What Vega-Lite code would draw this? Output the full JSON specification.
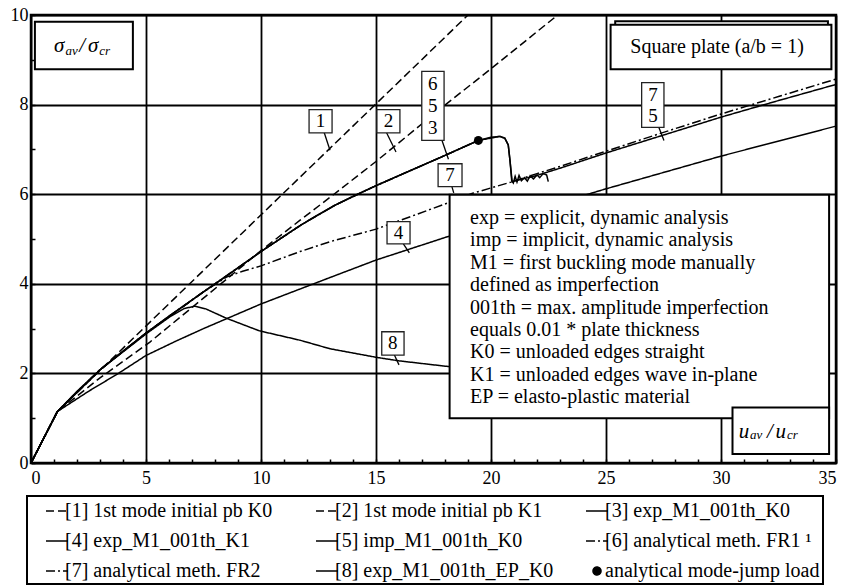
{
  "$schema": "https://vega.github.io/schema/vega-lite/v6.json",
  "width": 805,
  "height": 448,
  "autosize": {"type": "none"},
  "padding": {"left": 31, "top": 15, "right": 7, "bottom": 125},
  "background": "white",
  "config": {
    "view": {"stroke": "black", "strokeWidth": 2.5},
    "font": "Liberation Serif",
    "text": {"font": "Liberation Serif", "color": "black"}
  },
  "datasets": {
    "curves": [
      {"s": "[1] 1st mode initial pb K0", "x": 0, "y": 0},
      {"s": "[1] 1st mode initial pb K0", "x": 1.15, "y": 1.15},
      {"s": "[1] 1st mode initial pb K0", "x": 19.0, "y": 10.0},
      {"s": "[2] 1st mode initial pb K1", "x": 0, "y": 0},
      {"s": "[2] 1st mode initial pb K1", "x": 1.15, "y": 1.15},
      {"s": "[2] 1st mode initial pb K1", "x": 3, "y": 1.9},
      {"s": "[2] 1st mode initial pb K1", "x": 5.17, "y": 2.7},
      {"s": "[2] 1st mode initial pb K1", "x": 8.4, "y": 4.06},
      {"s": "[2] 1st mode initial pb K1", "x": 10, "y": 4.74},
      {"s": "[2] 1st mode initial pb K1", "x": 11.7, "y": 5.42},
      {"s": "[2] 1st mode initial pb K1", "x": 13, "y": 5.93},
      {"s": "[2] 1st mode initial pb K1", "x": 15, "y": 6.73},
      {"s": "[2] 1st mode initial pb K1", "x": 17.9, "y": 7.95},
      {"s": "[2] 1st mode initial pb K1", "x": 20, "y": 8.8},
      {"s": "[2] 1st mode initial pb K1", "x": 22.9, "y": 10.0},
      {"s": "[3] exp_M1_001th_K0", "x": 0, "y": 0},
      {"s": "[3] exp_M1_001th_K0", "x": 1.15, "y": 1.15},
      {"s": "[3] exp_M1_001th_K0", "x": 2, "y": 1.6},
      {"s": "[3] exp_M1_001th_K0", "x": 3, "y": 2.08},
      {"s": "[3] exp_M1_001th_K0", "x": 4, "y": 2.5},
      {"s": "[3] exp_M1_001th_K0", "x": 5, "y": 2.9},
      {"s": "[3] exp_M1_001th_K0", "x": 6, "y": 3.28},
      {"s": "[3] exp_M1_001th_K0", "x": 7.5, "y": 3.82},
      {"s": "[3] exp_M1_001th_K0", "x": 8.5, "y": 4.17},
      {"s": "[3] exp_M1_001th_K0", "x": 10, "y": 4.72},
      {"s": "[3] exp_M1_001th_K0", "x": 11.7, "y": 5.3},
      {"s": "[3] exp_M1_001th_K0", "x": 12.4, "y": 5.52},
      {"s": "[3] exp_M1_001th_K0", "x": 13.2, "y": 5.75},
      {"s": "[3] exp_M1_001th_K0", "x": 14.1, "y": 5.98},
      {"s": "[3] exp_M1_001th_K0", "x": 15, "y": 6.19},
      {"s": "[3] exp_M1_001th_K0", "x": 16.5, "y": 6.53},
      {"s": "[3] exp_M1_001th_K0", "x": 17.8, "y": 6.82},
      {"s": "[3] exp_M1_001th_K0", "x": 19.45, "y": 7.2},
      {"s": "[3] exp_M1_001th_K0", "x": 20.0, "y": 7.27},
      {"s": "[3] exp_M1_001th_K0", "x": 20.39, "y": 7.29},
      {"s": "[3] exp_M1_001th_K0", "x": 20.6, "y": 7.25},
      {"s": "[3] exp_M1_001th_K0", "x": 20.75, "y": 7.1},
      {"s": "[3] exp_M1_001th_K0", "x": 20.83, "y": 6.73},
      {"s": "[3] exp_M1_001th_K0", "x": 20.9, "y": 6.3},
      {"s": "[3] exp_M1_001th_K0", "x": 20.97, "y": 6.25},
      {"s": "[3] exp_M1_001th_K0", "x": 21.05, "y": 6.4},
      {"s": "[3] exp_M1_001th_K0", "x": 21.13, "y": 6.27},
      {"s": "[3] exp_M1_001th_K0", "x": 21.22, "y": 6.42},
      {"s": "[3] exp_M1_001th_K0", "x": 21.32, "y": 6.3},
      {"s": "[3] exp_M1_001th_K0", "x": 21.45, "y": 6.37},
      {"s": "[3] exp_M1_001th_K0", "x": 21.58, "y": 6.29},
      {"s": "[3] exp_M1_001th_K0", "x": 21.7, "y": 6.41},
      {"s": "[3] exp_M1_001th_K0", "x": 21.85, "y": 6.34},
      {"s": "[3] exp_M1_001th_K0", "x": 22.0, "y": 6.43},
      {"s": "[3] exp_M1_001th_K0", "x": 22.12, "y": 6.37},
      {"s": "[3] exp_M1_001th_K0", "x": 22.27, "y": 6.46},
      {"s": "[3] exp_M1_001th_K0", "x": 22.42, "y": 6.43},
      {"s": "[3] exp_M1_001th_K0", "x": 22.49, "y": 6.28},
      {"s": "[4] exp_M1_001th_K1", "x": 0, "y": 0},
      {"s": "[4] exp_M1_001th_K1", "x": 1.15, "y": 1.15},
      {"s": "[4] exp_M1_001th_K1", "x": 2.5, "y": 1.6},
      {"s": "[4] exp_M1_001th_K1", "x": 3.8, "y": 2.0},
      {"s": "[4] exp_M1_001th_K1", "x": 5, "y": 2.4},
      {"s": "[4] exp_M1_001th_K1", "x": 6.3, "y": 2.72},
      {"s": "[4] exp_M1_001th_K1", "x": 7.5, "y": 3.0},
      {"s": "[4] exp_M1_001th_K1", "x": 10, "y": 3.55},
      {"s": "[4] exp_M1_001th_K1", "x": 13, "y": 4.14},
      {"s": "[4] exp_M1_001th_K1", "x": 15, "y": 4.53},
      {"s": "[4] exp_M1_001th_K1", "x": 18.1, "y": 5.05},
      {"s": "[4] exp_M1_001th_K1", "x": 20, "y": 5.35},
      {"s": "[4] exp_M1_001th_K1", "x": 25, "y": 6.12},
      {"s": "[4] exp_M1_001th_K1", "x": 30, "y": 6.85},
      {"s": "[4] exp_M1_001th_K1", "x": 35, "y": 7.52},
      {"s": "[5] imp_M1_001th_K0", "x": 0, "y": 0},
      {"s": "[5] imp_M1_001th_K0", "x": 1.15, "y": 1.15},
      {"s": "[5] imp_M1_001th_K0", "x": 3, "y": 2.08},
      {"s": "[5] imp_M1_001th_K0", "x": 5, "y": 2.9},
      {"s": "[5] imp_M1_001th_K0", "x": 7.5, "y": 3.82},
      {"s": "[5] imp_M1_001th_K0", "x": 10, "y": 4.72},
      {"s": "[5] imp_M1_001th_K0", "x": 11.7, "y": 5.3},
      {"s": "[5] imp_M1_001th_K0", "x": 13.2, "y": 5.75},
      {"s": "[5] imp_M1_001th_K0", "x": 15, "y": 6.19},
      {"s": "[5] imp_M1_001th_K0", "x": 17.8, "y": 6.82},
      {"s": "[5] imp_M1_001th_K0", "x": 19.45, "y": 7.2},
      {"s": "[5] imp_M1_001th_K0", "x": 20.39, "y": 7.29},
      {"s": "[5] imp_M1_001th_K0", "x": 20.6, "y": 7.25},
      {"s": "[5] imp_M1_001th_K0", "x": 20.75, "y": 7.1},
      {"s": "[5] imp_M1_001th_K0", "x": 20.83, "y": 6.73},
      {"s": "[5] imp_M1_001th_K0", "x": 20.92, "y": 6.28},
      {"s": "[5] imp_M1_001th_K0", "x": 22, "y": 6.42},
      {"s": "[5] imp_M1_001th_K0", "x": 23, "y": 6.58},
      {"s": "[5] imp_M1_001th_K0", "x": 25, "y": 6.92},
      {"s": "[5] imp_M1_001th_K0", "x": 27.5, "y": 7.32},
      {"s": "[5] imp_M1_001th_K0", "x": 30, "y": 7.72},
      {"s": "[5] imp_M1_001th_K0", "x": 32.5, "y": 8.09},
      {"s": "[5] imp_M1_001th_K0", "x": 35, "y": 8.45},
      {"s": "[6] analytical meth. FR1 ¹", "x": 0, "y": 0},
      {"s": "[6] analytical meth. FR1 ¹", "x": 1.15, "y": 1.15},
      {"s": "[6] analytical meth. FR1 ¹", "x": 3, "y": 2.08},
      {"s": "[6] analytical meth. FR1 ¹", "x": 5, "y": 2.9},
      {"s": "[6] analytical meth. FR1 ¹", "x": 7.5, "y": 3.82},
      {"s": "[6] analytical meth. FR1 ¹", "x": 10, "y": 4.72},
      {"s": "[6] analytical meth. FR1 ¹", "x": 11.7, "y": 5.3},
      {"s": "[6] analytical meth. FR1 ¹", "x": 13.2, "y": 5.75},
      {"s": "[6] analytical meth. FR1 ¹", "x": 15, "y": 6.19},
      {"s": "[6] analytical meth. FR1 ¹", "x": 17.8, "y": 6.82},
      {"s": "[6] analytical meth. FR1 ¹", "x": 19.45, "y": 7.2},
      {"s": "[7] analytical meth. FR2", "x": 0, "y": 0},
      {"s": "[7] analytical meth. FR2", "x": 1.15, "y": 1.15},
      {"s": "[7] analytical meth. FR2", "x": 3, "y": 2.08},
      {"s": "[7] analytical meth. FR2", "x": 5, "y": 2.9},
      {"s": "[7] analytical meth. FR2", "x": 7.5, "y": 3.82},
      {"s": "[7] analytical meth. FR2", "x": 8.5, "y": 4.15},
      {"s": "[7] analytical meth. FR2", "x": 9.2, "y": 4.28},
      {"s": "[7] analytical meth. FR2", "x": 10, "y": 4.4},
      {"s": "[7] analytical meth. FR2", "x": 11.7, "y": 4.72},
      {"s": "[7] analytical meth. FR2", "x": 13, "y": 4.94},
      {"s": "[7] analytical meth. FR2", "x": 15, "y": 5.22},
      {"s": "[7] analytical meth. FR2", "x": 16.5, "y": 5.5},
      {"s": "[7] analytical meth. FR2", "x": 18.1, "y": 5.8},
      {"s": "[7] analytical meth. FR2", "x": 19.2, "y": 6.02},
      {"s": "[7] analytical meth. FR2", "x": 20.87, "y": 6.27},
      {"s": "[7] analytical meth. FR2", "x": 22, "y": 6.46},
      {"s": "[7] analytical meth. FR2", "x": 23, "y": 6.62},
      {"s": "[7] analytical meth. FR2", "x": 25, "y": 6.96},
      {"s": "[7] analytical meth. FR2", "x": 27.5, "y": 7.38},
      {"s": "[7] analytical meth. FR2", "x": 30, "y": 7.79},
      {"s": "[7] analytical meth. FR2", "x": 32.5, "y": 8.18},
      {"s": "[7] analytical meth. FR2", "x": 35, "y": 8.57},
      {"s": "[8] exp_M1_001th_EP_K0", "x": 0, "y": 0},
      {"s": "[8] exp_M1_001th_EP_K0", "x": 1.15, "y": 1.15},
      {"s": "[8] exp_M1_001th_EP_K0", "x": 3, "y": 2.08},
      {"s": "[8] exp_M1_001th_EP_K0", "x": 5, "y": 2.88},
      {"s": "[8] exp_M1_001th_EP_K0", "x": 6.0, "y": 3.25},
      {"s": "[8] exp_M1_001th_EP_K0", "x": 6.67, "y": 3.45},
      {"s": "[8] exp_M1_001th_EP_K0", "x": 7.13, "y": 3.5},
      {"s": "[8] exp_M1_001th_EP_K0", "x": 7.6, "y": 3.44},
      {"s": "[8] exp_M1_001th_EP_K0", "x": 8.5, "y": 3.23},
      {"s": "[8] exp_M1_001th_EP_K0", "x": 9.93, "y": 2.95},
      {"s": "[8] exp_M1_001th_EP_K0", "x": 11.7, "y": 2.74},
      {"s": "[8] exp_M1_001th_EP_K0", "x": 13.0, "y": 2.55},
      {"s": "[8] exp_M1_001th_EP_K0", "x": 15.0, "y": 2.36},
      {"s": "[8] exp_M1_001th_EP_K0", "x": 16.0, "y": 2.28},
      {"s": "[8] exp_M1_001th_EP_K0", "x": 18.2, "y": 2.15},
      {"s": "[8] exp_M1_001th_EP_K0", "x": 19.0, "y": 2.12}
    ],
    "numboxes": [
      {"x": 12.09, "x2": 13.09, "y": 7.89, "y2": 7.37},
      {"x": 15.04, "x2": 16.04, "y": 7.89, "y2": 7.37},
      {"x": 16.99, "x2": 17.96, "y": 8.74, "y2": 7.2},
      {"x": 17.7, "x2": 18.74, "y": 6.68, "y2": 6.17},
      {"x": 26.55, "x2": 27.52, "y": 8.49, "y2": 7.49},
      {"x": 15.48, "x2": 16.48, "y": 5.39, "y2": 4.89},
      {"x": 15.25, "x2": 16.22, "y": 2.93, "y2": 2.41}
    ],
    "leaders": [
      {"x": 12.75, "y": 7.37, "x2": 13.0, "y2": 6.98},
      {"x": 15.46, "y": 7.37, "x2": 15.87, "y2": 6.94},
      {"x": 17.87, "y": 7.2, "x2": 18.15, "y2": 6.78},
      {"x": 18.3, "y": 6.17, "x2": 18.38, "y2": 6.03},
      {"x": 27.3, "y": 7.49, "x2": 27.52, "y2": 7.2},
      {"x": 16.19, "y": 4.89, "x2": 16.45, "y2": 4.69},
      {"x": 15.8, "y": 2.41, "x2": 16.0, "y2": 2.19}
    ],
    "numtexts": [
      {"x": 12.59, "y": 7.63, "t": "1"},
      {"x": 15.54, "y": 7.63, "t": "2"},
      {"x": 17.47, "y": 8.45, "t": "6"},
      {"x": 17.47, "y": 7.96, "t": "5"},
      {"x": 17.47, "y": 7.48, "t": "3"},
      {"x": 18.22, "y": 6.42, "t": "7"},
      {"x": 27.04, "y": 8.22, "t": "7"},
      {"x": 27.04, "y": 7.74, "t": "5"},
      {"x": 15.98, "y": 5.14, "t": "4"},
      {"x": 15.73, "y": 2.67, "t": "8"}
    ],
    "bigboxes": [
      {"x": 0.17, "x2": 4.43, "y": 9.85, "y2": 8.79},
      {"x": 25.4, "x2": 34.65, "y": 9.86, "y2": 9.2},
      {"x": 25.2, "x2": 34.8, "y": 9.78, "y2": 8.79},
      {"x": 18.2, "x2": 34.7, "y": 5.99, "y2": 1.0},
      {"x": 30.5, "x2": 34.7, "y": 1.24, "y2": 0.2}
    ],
    "deflines": [
      {"x": 19.09, "y": 5.47, "t": "exp = explicit, dynamic analysis"},
      {"x": 19.09, "y": 4.97, "t": "imp = implicit, dynamic analysis"},
      {"x": 19.09, "y": 4.47, "t": "M1 = first buckling mode manually"},
      {"x": 19.09, "y": 3.97, "t": "defined as imperfection"},
      {"x": 19.09, "y": 3.47, "t": "001th = max. amplitude imperfection"},
      {"x": 19.09, "y": 2.97, "t": "equals 0.01 * plate thickness"},
      {"x": 19.09, "y": 2.47, "t": "K0 = unloaded edges straight"},
      {"x": 19.09, "y": 1.97, "t": "K1 = unloaded edges wave in-plane"},
      {"x": 19.09, "y": 1.47, "t": "EP = elasto-plastic material"},
      {"x": 29.83, "y": 9.28, "t": "Square plate (a/b = 1)", "c": 1}
    ],
    "symmain": [
      {"x": 1.22, "y": 9.3, "t": "σ"},
      {"x": 2.22, "y": 9.3, "t": "/"},
      {"x": 2.7, "y": 9.3, "t": "σ"},
      {"x": 31.0, "y": 0.7, "t": "u"},
      {"x": 32.13, "y": 0.7, "t": "/"},
      {"x": 32.6, "y": 0.7, "t": "u"}
    ],
    "symsub": [
      {"x": 1.5, "y": 9.2, "t": "av"},
      {"x": 2.97, "y": 9.2, "t": "cr"},
      {"x": 31.26, "y": 0.62, "t": "av"},
      {"x": 32.87, "y": 0.62, "t": "cr"}
    ],
    "dot": [{"x": 19.45, "y": 7.2}]
  },
  "encoding": {
    "x": {
      "field": "x", "type": "quantitative",
      "scale": {"domain": [0, 35], "nice": false, "zero": false},
      "axis": {
        "title": null, "domain": false, "format": "d",
        "values": [0,1,2,3,4,5,6,7,8,9,10,11,12,13,14,15,16,17,18,19,20,21,22,23,24,25,26,27,28,29,30,31,32,33,34,35],
        "labelExpr": "datum.value % 5 === 0 ? datum.label : ''",
        "grid": true, "gridColor": "black", "gridWidth": 1.8,
        "gridOpacity": {"condition": {"test": "datum.value % 5 === 0", "value": 1}, "value": 0},
        "tickSize": -4, "tickColor": "black", "tickWidth": 1.5,
        "labelPadding": 10, "labelFlush": true, "labelOverlap": false,
        "labelFont": "Liberation Serif", "labelFontSize": 18, "labelColor": "black"
      }
    },
    "y": {
      "field": "y", "type": "quantitative",
      "scale": {"domain": [0, 10], "nice": false},
      "axis": {
        "title": null, "domain": false, "format": "d",
        "values": [0,0.5,1,1.5,2,2.5,3,3.5,4,4.5,5,5.5,6,6.5,7,7.5,8,8.5,9,9.5,10],
        "labelExpr": "datum.value % 2 === 0 ? datum.label : ''",
        "grid": true, "gridColor": "black", "gridWidth": 1.8,
        "gridOpacity": {"condition": {"test": "datum.value % 2 === 0", "value": 1}, "value": 0},
        "tickSize": -4, "tickColor": "black", "tickWidth": 1.5,
        "labelPadding": 7, "labelOverlap": false,
        "labelFont": "Liberation Serif", "labelFontSize": 18, "labelColor": "black"
      }
    }
  },
  "layer": [
    {
      "data": {"name": "curves"},
      "mark": {"type": "line", "color": "black", "clip": true},
      "encoding": {
        "strokeDash": {
          "field": "s", "type": "nominal",
          "scale": {
            "domain": ["[1] 1st mode initial pb K0", "[2] 1st mode initial pb K1", "[3] exp_M1_001th_K0", "[4] exp_M1_001th_K1", "[5] imp_M1_001th_K0", "[6] analytical meth. FR1 ¹", "[7] analytical meth. FR2", "[8] exp_M1_001th_EP_K0", "analytical mode-jump load"],
            "range": [[8, 4], [8, 4], [1, 0], [1, 0], [1, 0], [9, 3, 2, 3], [9, 3, 2, 3], [1, 0], [1, 0]]
          },
          "legend": {
            "orient": "none", "legendX": -4, "legendY": 481,
            "direction": "horizontal",
            "title": null, "columns": 3, "gridAlign": "all",
            "symbolType": "stroke", "symbolSize": 484, "symbolStrokeWidth": 1.5,
            "symbolStrokeColor": "black", "symbolOffset": 15,
            "labelFont": "Liberation Serif", "labelFontSize": 20, "labelColor": "black",
            "labelOffset": -4, "labelLimit": 400,
            "rowPadding": 8, "columnPadding": 16, "padding": 3,
            "strokeColor": "black",
            "encode": {
              "legend": {"update": {"strokeWidth": {"value": 2}}},
              "symbols": {"update": {
                "shape": {"signal": "datum.value === 'analytical mode-jump load' ? 'circle' : 'stroke'"},
                "size": {"signal": "datum.value === 'analytical mode-jump load' ? 64 : 484"},
                "fill": {"signal": "datum.value === 'analytical mode-jump load' ? 'black' : 'transparent'"},
                "stroke": {"value": "black"},
                "strokeWidth": {"value": 1.5},
                "opacity": {"value": 1}
              }}
            }
          }
        },
        "strokeWidth": {
          "field": "s", "type": "nominal",
          "scale": {
            "domain": ["[1] 1st mode initial pb K0", "[2] 1st mode initial pb K1", "[3] exp_M1_001th_K0", "[4] exp_M1_001th_K1", "[5] imp_M1_001th_K0", "[6] analytical meth. FR1 ¹", "[7] analytical meth. FR2", "[8] exp_M1_001th_EP_K0", "analytical mode-jump load"],
            "range": [1.5, 1.5, 3, 1.5, 1.5, 1.5, 1.5, 1.6, 1]
          },
          "legend": null
        }
      }
    },
    {
      "data": {"name": "dot"},
      "mark": {"type": "point", "filled": true, "color": "black", "size": 80, "opacity": 1}
    },
    {
      "data": {"name": "leaders"},
      "mark": {"type": "rule", "color": "black", "strokeWidth": 1.3},
      "encoding": {
        "x2": {"field": "x2"},
        "y2": {"field": "y2"}
      }
    },
    {
      "data": {"name": "numboxes"},
      "mark": {"type": "rect", "fill": "white", "stroke": "#222", "strokeWidth": 1.3},
      "encoding": {
        "x2": {"field": "x2"},
        "y2": {"field": "y2"}
      }
    },
    {
      "data": {"name": "numtexts"},
      "mark": {"type": "text", "fontSize": 19, "align": "center", "baseline": "middle", "font": "Liberation Serif", "color": "black"},
      "encoding": {"text": {"field": "t"}}
    },
    {
      "data": {"name": "bigboxes"},
      "mark": {"type": "rect", "fill": "white", "stroke": "black", "strokeWidth": 2},
      "encoding": {
        "x2": {"field": "x2"},
        "y2": {"field": "y2"}
      }
    },
    {
      "data": {"name": "deflines"},
      "transform": [{"filter": "datum.c !== 1"}],
      "mark": {"type": "text", "fontSize": 20, "align": "left", "baseline": "middle", "font": "Liberation Serif", "color": "black"},
      "encoding": {"text": {"field": "t"}}
    },
    {
      "data": {"name": "deflines"},
      "transform": [{"filter": "datum.c === 1"}],
      "mark": {"type": "text", "fontSize": 20, "align": "center", "baseline": "middle", "font": "Liberation Serif", "color": "black"},
      "encoding": {"text": {"field": "t"}}
    },
    {
      "data": {"name": "symmain"},
      "mark": {"type": "text", "fontSize": 21, "fontStyle": "italic", "align": "center", "baseline": "middle", "font": "Liberation Serif", "color": "black"},
      "encoding": {"text": {"field": "t"}}
    },
    {
      "data": {"name": "symsub"},
      "mark": {"type": "text", "fontSize": 13, "fontStyle": "italic", "align": "left", "baseline": "middle", "font": "Liberation Serif", "color": "black"},
      "encoding": {"text": {"field": "t"}}
    }
  ]
}
